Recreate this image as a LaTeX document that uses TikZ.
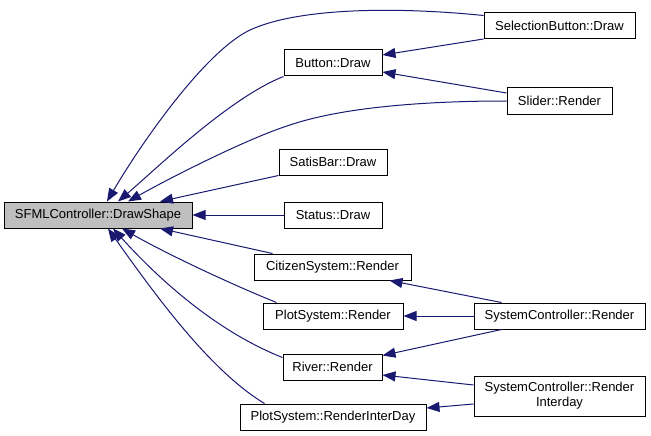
\documentclass[tikz,border=0pt]{standalone}
\usepackage{fontspec}
\setmainfont{Liberation Sans}
\usetikzlibrary{arrows.meta}
\definecolor{edgecol}{HTML}{191970}
\definecolor{boxgray}{HTML}{BFBFBF}
\begin{document}
\begin{tikzpicture}[x=1pt,y=-1pt,
  box/.style={draw=black, line width=1pt, fill=white, inner sep=0pt, minimum height=26pt,
    font=\fontsize{13pt}{15pt}\selectfont, text=black},
  edge/.style={draw=edgecol, line width=1pt, -{Triangle[length=13pt,width=10pt]}}]
\useasboundingbox (0,0) rectangle (651,436);
% nodes
\node[box, fill=boxgray, minimum width=188pt] (DS) at (98,215) {SFMLController::DrawShape};
\node[box, minimum width=151pt] (SB) at (559.5,25.5) {SelectionButton::Draw};
\node[box, minimum width=98pt] (BD) at (333,63) {Button::Draw};
\node[box, minimum width=105pt] (SR) at (559.5,101) {Slider::Render};
\node[box, minimum width=108pt] (SaB) at (333,162) {SatisBar::Draw};
\node[box, minimum width=98pt] (St) at (333,215) {Status::Draw};
\node[box, minimum width=157pt] (CS) at (332.5,267) {CitizenSystem::Render};
\node[box, minimum width=140pt] (PR) at (333,316) {PlotSystem::Render};
\node[box, minimum width=171pt] (SCR) at (559.5,316) {SystemController::Render};
\node[box, minimum width=99pt] (RR) at (332.5,367) {River::Render};
\node[box, minimum width=171pt, minimum height=40pt, align=center] (SCI) at (559.5,396) {SystemController::Render\\Interday};
\node[box, minimum width=186pt] (PRI) at (333,417) {PlotSystem::RenderInterDay};
% edges to DrawShape
\draw[edge] ([yshift=10pt]SB.west) .. controls (400,7) and (300,7) .. (250,30)
  .. controls (205,51.5) and (142,142) .. ([xshift=9pt]DS.north);
\draw[edge] (BD.south west) .. controls (229,98) and (156,169) .. ([xshift=20pt]DS.north);
\draw[edge] (SR.west) .. controls (420,101) and (340,108) .. (290,125)
  .. controls (247,138.5) and (168,179) .. ([xshift=30pt]DS.north);
\draw[edge] (SaB.south west) -- ([xshift=62pt]DS.north);
\draw[edge] (St.west) -- (DS.east);
\draw[edge] ([xshift=19pt]CS.north west) -- ([xshift=62pt]DS.south);
\draw[edge] ([xshift=14pt]PR.north west) .. controls (230.5,284) and (167,254) .. ([xshift=24pt]DS.south);
\draw[edge] ([yshift=-4pt]RR.north west) .. controls (213,330) and (155,275) .. ([xshift=15pt]DS.south);
\draw[edge] ([xshift=25pt]PRI.north west) .. controls (210,370.5) and (156,296) .. ([xshift=10pt]DS.south);
% other edges
\draw[edge] (SB.south west) -- ([yshift=8pt]BD.east);
\draw[edge] ([yshift=8pt]SR.west) -- ([yshift=-9pt]BD.east);
\draw[edge] ([xshift=28pt]SCR.north west) -- ([xshift=136pt]CS.south west);
\draw[edge] (SCR.west) -- (PR.east);
\draw[edge] ([xshift=28pt]SCR.south west) -- ([yshift=-2pt]RR.north east);
\draw[edge] ([yshift=11pt]SCI.west) -- ([yshift=-8pt]RR.east);
\draw[edge] ([yshift=-8pt]SCI.west) -- ([yshift=9pt]PRI.east);
\end{tikzpicture}
\end{document}
